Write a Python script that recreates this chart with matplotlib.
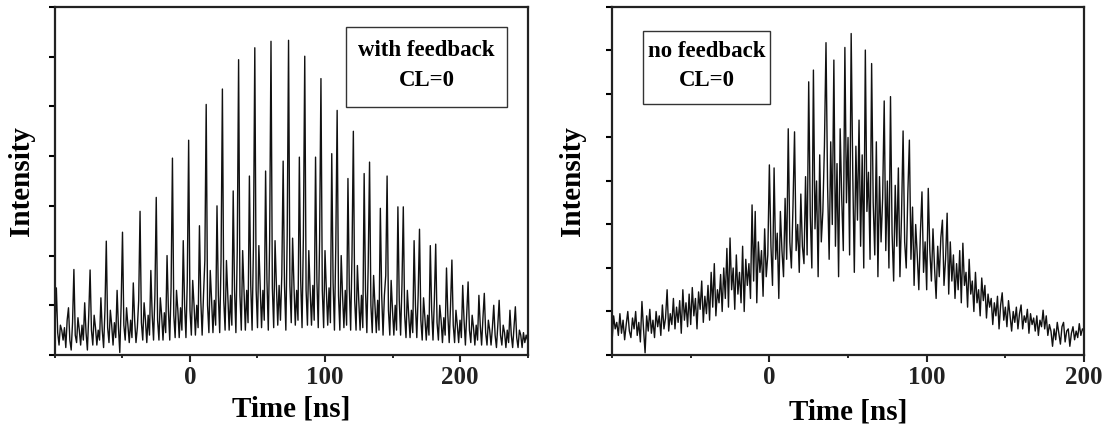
import numpy as np
import matplotlib
matplotlib.use("Agg")
import matplotlib.pyplot as plt
from matplotlib.patches import Rectangle
from matplotlib.ticker import MultipleLocator, NullFormatter

plt.rcParams['font.family'] = ['Liberation Serif', 'DejaVu Serif']
plt.rcParams['font.weight'] = 'bold'

# time grids (1 ns sampling)
time_left = np.arange(-100, 251)
time_right = np.arange(-100, 201)

# with feedback: pulse train, one row per round trip
intensity_left = [
    0.5,
    1.35, 0.45, 0.2, 0.6, 0.5, 0.3, 0.55, 0.15, 0.7, 0.95, 0.3, 0.1, 0.65,
    1.72, 0.4, 0.25, 0.75, 0.5, 0.2, 0.6, 0.3, 1.05, 0.45, 0.1, 0.8,
    1.71, 0.5, 0.2, 0.8, 0.55, 0.2, 0.5, 0.3, 1.15, 0.5, 0.15, 0.9,
    2.29, 0.55, 0.25, 0.9, 0.6, 0.2, 0.65, 0.35, 1.3, 0.55, 0.05, 1.0,
    2.47, 0.6, 0.3, 0.95, 0.6, 0.25, 0.7, 0.35, 1.45, 0.7, 0.25, 0.55, 1.1,
    2.89, 0.65, 0.3, 1.05, 0.7, 0.25, 0.8, 0.4, 1.7, 0.8, 0.3, 1.2,
    3.17, 0.7, 0.3, 1.15, 0.8, 0.3, 0.85, 0.45, 2.0, 0.9, 0.3, 1.35,
    3.96, 0.8, 0.35, 1.3, 0.9, 0.35, 0.95, 0.5, 2.3, 1.0, 0.35, 1.5,
    4.32, 0.9, 0.4, 1.5, 1.0, 0.4, 1.0, 0.55, 2.6, 1.1, 0.4, 1.2, 1.9,
    5.04, 1.0, 0.45, 1.7, 1.1, 0.45, 1.1, 0.6, 3.0, 1.2, 0.45, 1.9,
    5.35, 1.1, 0.5, 1.9, 1.2, 0.5, 1.2, 0.6, 3.3, 1.3, 0.45, 2.1,
    5.94, 1.2, 0.5, 2.1, 1.3, 0.5, 1.3, 0.65, 3.6, 1.4, 0.5, 2.2,
    6.18, 1.3, 0.55, 2.2, 1.4, 0.55, 1.3, 0.7, 3.7, 1.5, 0.5, 2.3,
    6.31, 1.35, 0.55, 2.3, 1.4, 0.6, 1.4, 0.7, 1.6, 3.9, 1.4, 0.5, 2.4,
    6.33, 1.4, 0.65, 2.35, 1.4, 0.6, 1.3, 0.7, 3.98, 1.5, 0.55, 2.4,
    6.01, 1.3, 0.6, 2.1, 1.3, 0.6, 1.4, 0.7, 3.98, 1.5, 0.55, 2.3,
    5.56, 1.3, 0.55, 2.1, 1.3, 0.6, 1.35, 0.65, 4.05, 1.45, 0.5, 2.2,
    4.92, 1.2, 0.5, 2.0, 1.2, 0.55, 1.3, 0.6, 3.55, 1.35, 0.5, 2.0,
    4.50, 1.1, 0.5, 1.8, 1.1, 0.5, 1.2, 0.55, 3.65, 1.3, 0.45, 1.8,
    3.88, 1.0, 0.45, 1.6, 1.0, 0.45, 1.1, 0.5, 2.95, 1.2, 0.4, 1.2, 1.6,
    3.60, 0.9, 0.4, 1.5, 0.9, 0.4, 1.0, 0.5, 2.98, 1.1, 0.4, 1.4,
    2.98, 0.8, 0.35, 1.3, 0.8, 0.35, 0.9, 0.45, 2.3, 1.0, 0.35, 1.2,
    2.53, 0.7, 0.3, 1.15, 0.75, 0.3, 0.8, 0.4, 2.2, 0.9, 0.3, 1.1,
    2.23, 0.65, 0.3, 1.0, 0.7, 0.25, 0.75, 0.4, 1.75, 0.8, 0.25, 1.0,
    1.91, 0.6, 0.25, 0.9, 0.6, 0.25, 0.7, 0.35, 1.4, 0.7, 0.2, 0.85,
    1.47, 0.5, 0.25, 0.8, 0.55, 0.2, 0.6, 0.3, 1.2, 0.6, 0.2, 0.75,
    1.24, 0.45, 0.2, 0.7, 0.5, 0.2, 0.55, 1.0, 0.4, 0.15, 0.6,
    1.10, 0.4, 0.2, 0.6, 0.45, 0.15, 0.5, 0.25, 0.9, 0.4, 0.15, 0.55,
    0.97, 0.35, 0.15, 0.5, 0.4, 0.15, 0.45, 0.25, 0.4, 0.3,
]

# no feedback: noisy envelope, 10 ns per row
intensity_right = [
    0.3, 0.9, 0.6, 0.75, 0.45, 0.95, 0.5, 0.8, 0.35, 0.7,
    1.0, 0.55, 0.4, 0.85, 0.6, 1.0, 0.45, 0.75, 0.3, 1.23,
    0.6, 0.05, 0.9, 0.55, 1.05, 0.5, 0.8, 0.4, 1.0, 0.65,
    0.9, 0.45, 1.15, 0.6, 0.85, 1.5, 0.55, 0.95, 0.7, 1.3,
    0.6, 1.1, 0.75, 1.25, 0.5, 1.5, 0.8, 1.2, 0.65, 1.4,
    0.7, 1.55, 0.9, 1.3, 0.6, 1.45, 1.05, 1.7, 0.75, 1.35,
    0.95, 1.6, 0.8, 1.9, 1.1, 2.1, 0.9, 1.5, 1.2, 1.85,
    1.0, 2.0, 1.3, 2.45, 1.1, 2.69, 1.5, 2.0, 1.05, 2.3,
    1.4, 1.9, 1.2, 2.5, 1.0, 2.2, 1.6, 2.1, 1.3, 3.45,
    1.7, 3.3, 1.2, 2.6, 1.9, 2.4, 1.35, 2.9, 1.8, 2.3,
    4.37, 2.5, 1.6, 4.3, 2.2, 2.8, 1.3, 3.3, 2.4, 1.8,
    3.6, 2.2, 5.2, 2.6, 2.0, 3.4, 5.13, 2.4, 3.0, 1.9,
    3.7, 2.5, 2.1, 4.1, 2.3, 6.28, 3.2, 2.0, 6.55, 2.9,
    4.0, 1.8, 4.6, 2.6, 3.3, 4.8, 7.18, 3.9, 2.2, 4.9,
    3.0, 6.78, 2.5, 4.4, 1.8, 5.2, 3.6, 2.4, 7.07, 3.5,
    5.0, 2.3, 7.39, 4.2, 1.9, 4.8, 3.1, 5.4, 2.5, 4.6,
    2.0, 7.01, 3.3, 4.2, 2.2, 6.7, 3.5, 2.3, 4.9, 1.8,
    4.1, 2.6, 3.6, 5.84, 2.4, 4.0, 2.0, 5.94, 2.8, 1.7,
    3.9, 2.5, 4.3, 1.8, 3.2, 5.15, 2.6, 2.0, 3.7, 4.94,
    2.2, 3.4, 1.6, 3.0, 2.3, 1.5, 2.8, 3.75, 1.9, 2.6,
    1.5, 3.83, 2.4, 1.7, 2.9, 2.0, 1.3, 2.5, 1.8, 2.7,
    3.1, 1.6, 2.2, 3.26, 1.4, 2.6, 1.7, 2.3, 1.3, 2.1,
    1.5, 2.4, 1.2, 2.57, 1.6, 1.9, 1.1, 2.2, 1.4, 1.7,
    1.0, 1.9, 1.2, 1.5, 0.9, 1.77, 1.25, 1.6, 0.85, 1.4,
    1.1, 1.3, 0.7, 1.2, 0.9, 1.35, 0.6, 1.15, 1.43, 0.8,
    1.1, 0.65, 1.25, 0.9, 0.55, 1.0, 0.75, 1.1, 0.6, 0.95,
    1.15, 0.6, 0.9, 0.75, 1.05, 0.5, 0.95, 0.7, 0.85, 0.55,
    0.9, 0.45, 0.8, 0.65, 1.03, 0.6, 0.9, 0.45, 0.7, 0.55,
    0.2, 0.6, 0.35, 0.75, 0.5, 0.25, 0.65, 0.75, 0.3, 0.55,
    0.6, 0.2, 0.5, 0.65, 0.35, 0.55, 0.4, 0.72, 0.45, 0.6,
    0.55,
]

xticks = [0, 100, 200]
labels_left = ["with feedback", "CL=0"]
labels_right = ["no feedback", "CL=0"]


def style(ax, xlim, ylim):
    ax.set_xlim(*xlim)
    ax.set_ylim(*ylim)
    ax.set_xticks(xticks)
    ax.xaxis.set_minor_locator(MultipleLocator(50))
    ax.yaxis.set_major_locator(MultipleLocator(1))
    ax.yaxis.set_major_formatter(NullFormatter())
    for s in ax.spines.values():
        s.set_linewidth(1.6)
        s.set_color('#222222')
    ax.tick_params(axis='x', which='major', direction='out', length=5, width=1.5,
                   labelsize=18, pad=3, colors='#222222')
    ax.tick_params(axis='x', which='minor', direction='out', length=2.5, width=1.2)
    ax.tick_params(axis='y', which='major', direction='out', length=4.5, width=1.5)
    ax.tick_params(top=False, right=False)
    for lab in ax.get_xticklabels():
        lab.set_fontweight('bold')
    ax.set_xlabel('Time [ns]', fontsize=21, fontweight='bold')
    ax.set_ylabel('Intensity', fontsize=21, fontweight='bold')


def textbox(ax, x0, y0, x1, y1, xc, ys, lines):
    ax.add_patch(Rectangle((x0, y0), x1 - x0, y1 - y0, transform=ax.transAxes,
                           fill=False, edgecolor='#333333', linewidth=1.0))
    for y, s in zip(ys, lines):
        ax.text(xc, y, s, transform=ax.transAxes, ha='center', va='center',
                fontsize=16.5, fontweight='bold')


fig = plt.figure(figsize=(11.11, 4.29), dpi=100)
ax1 = fig.add_axes([0.0495, 0.1725, 0.4253, 0.8112])
ax2 = fig.add_axes([0.5509, 0.1725, 0.4248, 0.8112])

ax1.plot(time_left, intensity_left, color='#111111', linewidth=1.0)
style(ax1, (-100, 250), (0, 7))
textbox(ax1, 0.616, 0.713, 0.957, 0.943, 0.786, [0.876, 0.790], labels_left)
ax1.xaxis.set_label_coords(0.5, -0.115)
ax1.yaxis.set_label_coords(-0.043, 0.5)

ax2.plot(time_right, intensity_right, color='#111111', linewidth=1.0)
style(ax2, (-100, 200), (0, 8))
textbox(ax2, 0.0657, 0.721, 0.335, 0.931, 0.200, [0.871, 0.790], labels_right)
ax2.xaxis.set_label_coords(0.5, -0.125)
ax2.yaxis.set_label_coords(-0.055, 0.5)

fig.savefig('out.png', dpi=100)
